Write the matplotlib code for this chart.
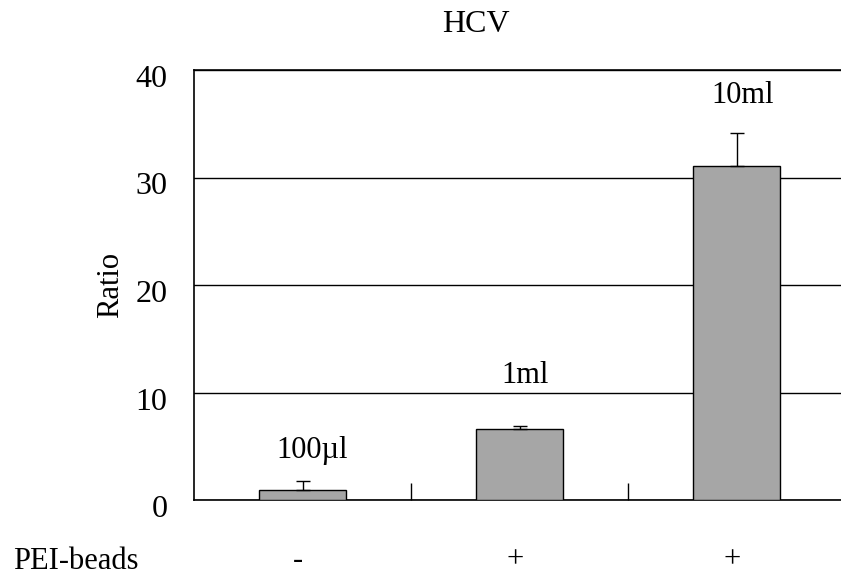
import numpy as np
import matplotlib
matplotlib.use("Agg")
import matplotlib.pyplot as plt
import matplotlib.transforms as mtransforms
from matplotlib.ticker import MultipleLocator, FixedLocator

# Данные
volumes = ['100\u00b5l', '1ml', '10ml']
pei_beads = ['-', '+', '+']
ratio = [0.93, 6.6, 31.1]
ratio_err = [0.8, 0.3, 3.0]

plt.rcParams['font.family'] = ['Liberation Serif', 'DejaVu Serif']

fig = plt.figure(figsize=(8.41, 5.78), dpi=100)
ax = fig.add_axes([194 / 841, 1 - 500 / 578, 651 / 841, 430 / 578])

x = np.arange(1, len(ratio) + 1)
ax.bar(x, ratio, width=0.4, color='#a6a6a6', edgecolor='black', linewidth=1.0, zorder=3)
ax.errorbar(x, ratio, yerr=[np.zeros(len(ratio)), ratio_err], fmt='none',
            ecolor='black', elinewidth=1.0, capsize=5, capthick=1.0, zorder=4)

# подписи объёмов над столбцами
label_y = [3.9, 10.9, 36.9]
label_dx = [0.045, 0.025, 0.03]
for xi, yi, dx, lab in zip(x, label_y, label_dx, volumes):
    ax.text(xi + dx, yi, lab, ha='center', va='baseline', fontsize=22)

ax.set_xlim(0.5, 3.5)
ax.set_ylim(0, 40)
ax.yaxis.set_major_locator(MultipleLocator(10))
ax.yaxis.grid(True, color='black', linewidth=1.0, zorder=0)
ax.tick_params(axis='y', length=0, labelsize=23, pad=19)
ax.xaxis.set_major_locator(FixedLocator([1.5, 2.5]))
ax.tick_params(axis='x', direction='in', length=12, width=1.0, labelbottom=False)
ax.spines['right'].set_visible(False)
for s in ['left', 'top', 'bottom']:
    ax.spines[s].set_linewidth(1.2)

# метки по оси y чуть ниже линий сетки
offset = mtransforms.ScaledTranslation(0, -0.06, fig.dpi_scale_trans)
for lab in ax.yaxis.get_majorticklabels():
    lab.set_transform(lab.get_transform() + offset)

fig.text(111 / 841, 1 - 285 / 578, 'Ratio', rotation=90, ha='center', va='center', fontsize=22)
fig.text(476 / 841, 1 - 25 / 578, 'HCV', ha='center', va='center', fontsize=23)

# Строка PEI-beads под осью
for xi, sign in zip(x, pei_beads):
    ax.text(xi - 0.02, -6.3, sign, ha='center', va='baseline', fontsize=22)
fig.text(76 / 841, 1 - 569 / 578, 'PEI-beads', ha='center', va='baseline', fontsize=22)

fig.savefig('out.png', dpi=100)
